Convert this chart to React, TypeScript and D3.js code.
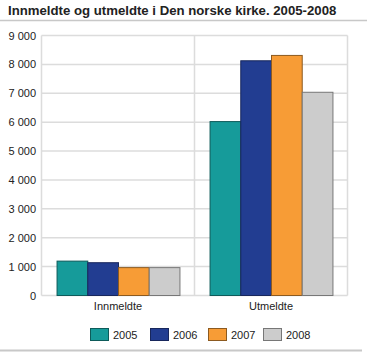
import React, { useEffect, useRef } from 'react';
import * as d3 from 'd3';

const categories = ['Innmeldte', 'Utmeldte'];
const years = ['2005', '2006', '2007', '2008'];
const values2005 = [1190, 6020];
const values2006 = [1135, 8125];
const values2007 = [965, 8310];
const values2008 = [965, 7035];
const yTicks = [0, 1000, 2000, 3000, 4000, 5000, 6000, 7000, 8000, 9000];

const fills = ['#169b9a', '#223d91', '#f79c36', '#cccccc'];
const strokes = ['#0e5b5a', '#18275c', '#8c5a20', '#777777'];

const App = () => {
    const svgRef = useRef<SVGSVGElement>(null);

    useEffect(() => {
        const svg = d3.select(svgRef.current);
        svg.selectAll('*').remove();

        const series = [values2005, values2006, values2007, values2008];
        const left = 41.5;
        const right = 347.5;
        const top = 35.5;
        const bottom = 295.5;
        const font = 'Liberation Sans, Arial, sans-serif';

        // title
        svg.append('text')
            .attr('x', 8)
            .attr('y', 15)
            .attr('font-family', font)
            .attr('font-size', 13.2)
            .attr('font-weight', 'bold')
            .attr('fill', '#222')
            .text('Innmeldte og utmeldte i Den norske kirke. 2005-2008');

        svg.append('line')
            .attr('x1', 0).attr('x2', 367)
            .attr('y1', 20.5).attr('y2', 20.5)
            .attr('stroke', '#c8c8c8').attr('stroke-width', 1.5);

        svg.append('line')
            .attr('x1', 0).attr('x2', 362)
            .attr('y1', 350.5).attr('y2', 350.5)
            .attr('stroke', '#c8c8c8').attr('stroke-width', 2);

        const y = d3.scaleLinear().domain([0, 9000]).range([bottom, top]);
        const x0 = d3.scaleBand().domain(categories).range([left, right]).paddingInner(0).paddingOuter(0);
        const x1 = d3.scaleBand().domain(years).range([0, x0.bandwidth()]).paddingOuter(0.49);

        // grid
        svg.append('g')
            .selectAll('line')
            .data(yTicks)
            .enter()
            .append('line')
            .attr('x1', left).attr('x2', right)
            .attr('y1', d => y(d)).attr('y2', d => y(d))
            .attr('stroke', '#dcdcdc').attr('stroke-width', 1.5);

        // vertical lines
        svg.append('g')
            .selectAll('line')
            .data([left, x0('Utmeldte') as number, right])
            .enter()
            .append('line')
            .attr('x1', d => d).attr('x2', d => d)
            .attr('y1', top).attr('y2', bottom)
            .attr('stroke', '#dcdcdc').attr('stroke-width', 1.5);

        // y labels
        svg.append('g')
            .selectAll('text')
            .data(yTicks)
            .enter()
            .append('text')
            .attr('x', 36)
            .attr('y', d => y(d) + 4)
            .attr('text-anchor', 'end')
            .attr('font-family', font)
            .attr('font-size', 11)
            .attr('fill', '#222')
            .text(d => d3.format(',')(d).replace(/,/g, ' '));

        // bars
        categories.forEach((cat, ci) => {
            const g = svg.append('g').attr('transform', `translate(${x0(cat)},0)`);
            g.selectAll('rect')
                .data(years)
                .enter()
                .append('rect')
                .attr('x', d => (x1(d) as number) + 0.5)
                .attr('width', x1.bandwidth())
                .attr('y', (d, i) => y(series[i][ci]))
                .attr('height', (d, i) => bottom - y(series[i][ci]))
                .attr('fill', (d, i) => fills[i])
                .attr('stroke', (d, i) => strokes[i])
                .attr('stroke-width', 1);
        });

        // category labels
        svg.append('g')
            .selectAll('text')
            .data(categories)
            .enter()
            .append('text')
            .attr('x', d => (x0(d) as number) + x0.bandwidth() / 2)
            .attr('y', 310)
            .attr('text-anchor', 'middle')
            .attr('font-family', font)
            .attr('font-size', 11)
            .attr('fill', '#222')
            .text(d => d);

        // legend
        const legendX = [90, 150, 208, 263];
        const lg = svg.append('g');
        years.forEach((yr, i) => {
            lg.append('rect')
                .attr('x', legendX[i] + 0.5)
                .attr('y', 328.5)
                .attr('width', 18)
                .attr('height', 12)
                .attr('fill', fills[i])
                .attr('stroke', strokes[i]);
            lg.append('text')
                .attr('x', legendX[i] + 23)
                .attr('y', 339)
                .attr('font-family', font)
                .attr('font-size', 11)
                .attr('fill', '#222')
                .text(yr);
        });
    }, []);

    return (
        <svg ref={svgRef} width={367} height={352} style={{ position: 'absolute', left: 0, top: 0 }}></svg>
    );
};

export default App;
